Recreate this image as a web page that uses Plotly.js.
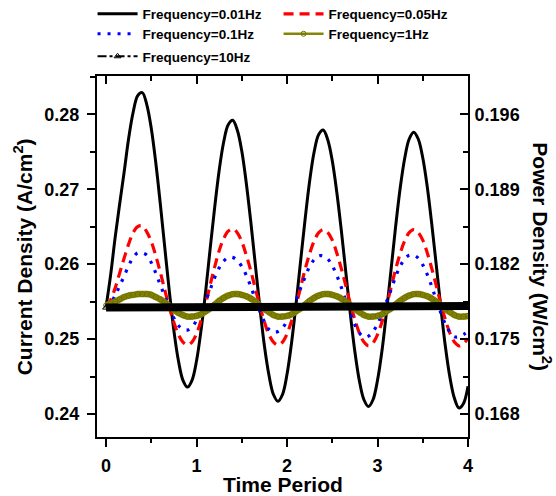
<!DOCTYPE html>
<html>
<head>
<meta charset="utf-8">
<script src="https://cdn.plot.ly/plotly-3.0.1.min.js"></script>
<style>html,body{margin:0;padding:0;background:#fff;}#chart{width:556px;height:496px;}</style>
</head>
<body>
<div id="chart"></div>
<script>
// Time axis (periods)
var timePeriod = [0,0.05,0.1,0.15,0.2,0.25,0.3,0.35,0.4,0.45,0.5,0.55,0.6,0.65,0.7,0.75,0.8,0.85,0.9,0.95,
  1,1.05,1.1,1.15,1.2,1.25,1.3,1.35,1.4,1.45,1.5,1.55,1.6,1.65,1.7,1.75,1.8,1.85,1.9,1.95,
  2,2.05,2.1,2.15,2.2,2.25,2.3,2.35,2.4,2.45,2.5,2.55,2.6,2.65,2.7,2.75,2.8,2.85,2.9,2.95,
  3,3.05,3.1,3.15,3.2,3.25,3.3,3.35,3.4,3.45,3.5,3.55,3.6,3.65,3.7,3.75,3.8,3.85,3.9,3.95,4];

// Current density (A/cm2) per frequency
var freq001 = [0.2543,0.2585,0.2635,0.2680,0.2723,0.2768,0.2803,0.2825,0.2829,0.2813,0.2781,0.2735,0.2680,0.2621,0.2563,0.2511,0.2471,0.2445,0.2436,0.2445,
  0.2471,0.2512,0.2563,0.2620,0.2675,0.2725,0.2763,0.2786,0.2792,0.2779,0.2751,0.2708,0.2656,0.2599,0.2542,0.2491,0.2452,0.2426,0.2417,0.2426,
  0.2453,0.2495,0.2547,0.2604,0.2660,0.2711,0.2750,0.2773,0.2779,0.2766,0.2738,0.2696,0.2645,0.2589,0.2533,0.2483,0.2444,0.2419,0.2410,0.2419,
  0.2445,0.2485,0.2537,0.2593,0.2650,0.2701,0.2741,0.2767,0.2776,0.2767,0.2742,0.2703,0.2653,0.2598,0.2542,0.2490,0.2449,0.2421,0.2408,0.2414,0.2437];

var freq005 = [0.2543,0.2552,0.2568,0.2588,0.2608,0.2627,0.2642,0.2650,0.2651,0.2643,0.2630,0.2611,0.2589,0.2565,0.2542,0.2522,0.2506,0.2496,0.2492,0.2496,
  0.2507,0.2525,0.2547,0.2572,0.2596,0.2618,0.2634,0.2644,0.2647,0.2642,0.2630,0.2612,0.2591,0.2567,0.2544,0.2523,0.2506,0.2496,0.2492,0.2496,
  0.2507,0.2524,0.2545,0.2569,0.2593,0.2614,0.2631,0.2642,0.2646,0.2642,0.2632,0.2615,0.2594,0.2571,0.2547,0.2526,0.2508,0.2496,0.2491,0.2495,
  0.2506,0.2523,0.2545,0.2569,0.2593,0.2614,0.2631,0.2642,0.2646,0.2642,0.2632,0.2615,0.2594,0.2571,0.2547,0.2526,0.2508,0.2496,0.2491,0.2494,0.2501];

var freq01 = [0.2543,0.2548,0.2558,0.2571,0.2584,0.2598,0.2609,0.2615,0.2615,0.2612,0.2602,0.2588,0.2572,0.2557,0.2542,0.2528,0.2518,0.2513,0.2512,0.2516,
  0.2525,0.2537,0.2551,0.2566,0.2582,0.2595,0.2604,0.2609,0.2609,0.2605,0.2597,0.2585,0.2570,0.2553,0.2537,0.2523,0.2513,0.2509,0.2510,0.2515,
  0.2524,0.2537,0.2552,0.2568,0.2583,0.2597,0.2606,0.2611,0.2611,0.2607,0.2598,0.2585,0.2569,0.2551,0.2534,0.2519,0.2508,0.2503,0.2504,0.2510,
  0.2520,0.2534,0.2550,0.2566,0.2583,0.2597,0.2607,0.2612,0.2612,0.2608,0.2599,0.2586,0.2570,0.2552,0.2535,0.2520,0.2509,0.2503,0.2503,0.2506,0.2510];

var freq1 = [0.2545,0.2547,0.2550,0.2553,0.2556,0.2558,0.2559,0.2560,0.2560,0.2560,0.2559,0.2556,0.2553,0.2549,0.2544,0.2539,0.2535,0.2532,0.2530,0.2530,
  0.2531,0.2533,0.2537,0.2541,0.2546,0.2551,0.2555,0.2558,0.2560,0.2560,0.2559,0.2557,0.2554,0.2550,0.2545,0.2540,0.2536,0.2532,0.2530,0.2530,
  0.2531,0.2533,0.2537,0.2541,0.2546,0.2551,0.2555,0.2558,0.2560,0.2560,0.2559,0.2557,0.2554,0.2550,0.2545,0.2540,0.2536,0.2532,0.2530,0.2530,
  0.2531,0.2533,0.2537,0.2541,0.2546,0.2551,0.2555,0.2558,0.2560,0.2560,0.2559,0.2557,0.2554,0.2550,0.2545,0.2540,0.2536,0.2532,0.2530,0.2530,0.2531];

var freq10 = [0.2542,0.2542,0.2542,0.2542,0.2542,0.2542,0.2542,0.2542,0.2542,0.2542,0.2542,0.2542,0.2542,0.2542,0.2542,0.2542,0.2542,0.2542,0.2542,0.2542,
  0.2543,0.2543,0.2543,0.2543,0.2543,0.2543,0.2543,0.2543,0.2543,0.2543,0.2543,0.2543,0.2543,0.2543,0.2543,0.2543,0.2543,0.2543,0.2543,0.2543,
  0.2543,0.2543,0.2543,0.2543,0.2543,0.2543,0.2543,0.2543,0.2543,0.2543,0.2543,0.2543,0.2543,0.2543,0.2543,0.2543,0.2543,0.2543,0.2543,0.2543,
  0.2544,0.2544,0.2544,0.2544,0.2544,0.2544,0.2544,0.2544,0.2544,0.2544,0.2544,0.2544,0.2544,0.2544,0.2544,0.2544,0.2544,0.2544,0.2544,0.2544,0.2544];

var seriesNames = ['Frequency=0.01Hz','Frequency=0.05Hz','Frequency=0.1Hz','Frequency=1Hz','Frequency=10Hz'];
var powerFactor = 0.7; // W/cm2 per A/cm2 (right axis = 0.7 x left axis)
var power001 = freq001.map(function(v){ return v * powerFactor; });

var FONT = 'Liberation Sans, Arial, Helvetica, sans-serif';
var OLIVE = '#868606';

var traces = [
  {x: timePeriod, y: freq001, name: seriesNames[0], legend: 'legend', mode: 'lines', line: {color: '#000000', width: 3, shape: 'spline'}},
  {x: timePeriod, y: freq005, name: seriesNames[1], legend: 'legend', mode: 'lines', line: {color: '#ff0000', width: 3.2, dash: '10px,6px', shape: 'spline'}},
  {x: timePeriod, y: freq01, name: seriesNames[2], legend: 'legend2', mode: 'lines', line: {color: '#0000ff', width: 3.2, dash: '3px,7px', shape: 'spline'}},
  {x: timePeriod, y: freq1, name: seriesNames[3], mode: 'lines', showlegend: false, line: {color: OLIVE, width: 6.5, shape: 'spline'}},
  {x: timePeriod, y: freq1, name: seriesNames[3], legend: 'legend2', mode: 'lines+markers', line: {color: OLIVE, width: 2.5, shape: 'spline'},
   marker: {symbol: 'circle-open-dot', size: 5, color: '#6f6f00', line: {width: 1}}},
  {x: timePeriod, y: freq10, name: seriesNames[4], mode: 'lines', showlegend: false, line: {color: '#000000', width: 8}},
  {x: timePeriod, y: freq10, name: seriesNames[4], legend: 'legend3', mode: 'lines+markers', line: {color: '#000000', width: 2, dash: 'dashdot'},
   marker: {symbol: 'triangle-up-open', size: 6, color: '#000000', line: {width: 1}}},
  // same 0.01 Hz curve expressed as power density, drawn invisibly so the right/top axes exist
  {x: timePeriod, y: power001, xaxis: 'x2', yaxis: 'y2', mode: 'lines', opacity: 0, showlegend: false, hoverinfo: 'skip',
   line: {color: '#000', width: 1}}
];

var yRange = [0.23693, 0.28511];
var tickFont = {family: FONT, size: 18, color: '#000', weight: 'bold'};
var legendFont = {family: FONT, size: 13.5, color: '#000', weight: 'bold'};
var titleFont = {family: FONT, size: 21, color: '#000', weight: 'bold'};
function legendRow(yPaper) {
  return {orientation: 'h', x: -0.012, xanchor: 'left', y: yPaper, yanchor: 'middle',
          font: legendFont, entrywidth: 131, itemwidth: 40, bgcolor: 'rgba(0,0,0,0)', traceorder: 'normal'};
}

var layout = {
  width: 556, height: 496,
  margin: {l: 97, r: 88, t: 76, b: 59, autoexpand: false},
  paper_bgcolor: '#fff', plot_bgcolor: '#fff',
  showlegend: true,
  legend: legendRow(1.1717),
  legend2: legendRow(1.1164),
  legend3: legendRow(1.0540),
  xaxis: {range: [-0.1, 4], tickmode: 'linear', tick0: 0, dtick: 1, ticks: 'outside', ticklen: 8, tickwidth: 2,
          tickcolor: '#000', showline: true, linewidth: 2, linecolor: '#000', showgrid: false, zeroline: false,
          minor: {tickmode: 'linear', tick0: 0, dtick: 0.5, ticks: 'outside', ticklen: 4, tickwidth: 2, tickcolor: '#000', showgrid: false},
          tickfont: tickFont, ticklabelstandoff: 3, title: {text: ''}},
  xaxis2: {range: [-0.1, 4], overlaying: 'x', side: 'top', anchor: 'y2', tickmode: 'linear', tick0: 0, dtick: 1,
           ticks: 'inside', ticklen: 8, tickwidth: 2, tickcolor: '#000', showticklabels: false,
           showline: true, linewidth: 2, linecolor: '#000', showgrid: false, zeroline: false,
           minor: {tickmode: 'linear', tick0: 0, dtick: 0.5, ticks: 'inside', ticklen: 5, tickwidth: 2, tickcolor: '#000', showgrid: false}},
  yaxis: {range: yRange, tickmode: 'linear', tick0: 0.24, dtick: 0.01, tickformat: '.2f', ticks: 'outside', ticklen: 8, tickwidth: 2,
          tickcolor: '#000', showline: true, linewidth: 2, linecolor: '#000', showgrid: false, zeroline: false,
          minor: {tickmode: 'linear', tick0: 0.235, dtick: 0.01, ticks: 'outside', ticklen: 5, tickwidth: 2, tickcolor: '#000', showgrid: false},
          tickfont: tickFont, ticklabelstandoff: 4},
  yaxis2: {range: [yRange[0] * powerFactor, yRange[1] * powerFactor], overlaying: 'y', side: 'right', anchor: 'x2',
           tickmode: 'linear', tick0: 0.168, dtick: 0.007, tickformat: '.3f', ticks: 'inside', ticklen: 8, tickwidth: 2,
           tickcolor: '#000', showline: true, linewidth: 2, linecolor: '#000', showgrid: false, zeroline: false,
           minor: {tickmode: 'linear', tick0: 0.1645, dtick: 0.007, ticks: 'inside', ticklen: 5, tickwidth: 2, tickcolor: '#000', showgrid: false},
           tickfont: tickFont, ticklabelstandoff: 1},
  annotations: [
    {text: 'Time Period', xref: 'paper', yref: 'paper', x: 0.5, y: -0.1302, xanchor: 'center', yanchor: 'middle',
     height: 22, valign: 'middle', showarrow: false, font: titleFont},
    {text: 'Current Density (A/cm<sup>2</sup>)', textangle: -90, xref: 'paper', yref: 'paper',
     x: -0.2, y: 0.5, xanchor: 'center', yanchor: 'middle', showarrow: false, font: titleFont},
    {text: 'Power Density (W/cm<sup>2</sup>)', textangle: 90, xref: 'paper', yref: 'paper',
     x: 1.2, y: 0.5, xanchor: 'center', yanchor: 'middle', showarrow: false, font: titleFont}
  ]
};

Plotly.newPlot('chart', traces, layout, {displayModeBar: false, staticPlot: true});
</script>
</body>
</html>
